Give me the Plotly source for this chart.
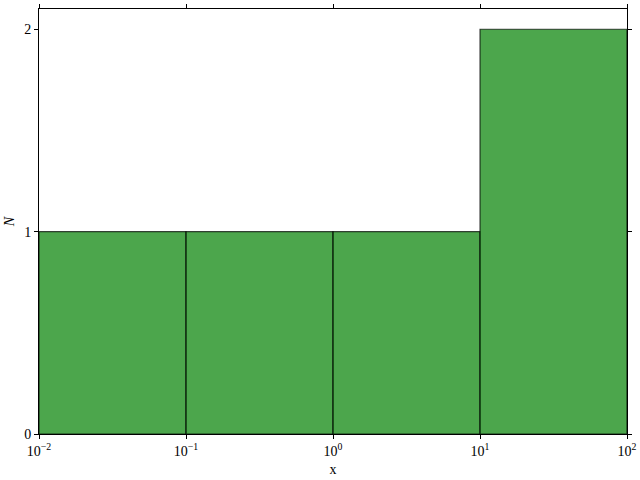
import plotly.graph_objects as go

# histogram of x, log-spaced bins
bin_edges = [1e-2, 1e-1, 1e0, 1e1, 1e2]
counts = [1, 1, 1, 2]
x_tick_vals = [1e-2, 1e-1, 1e0, 1e1, 1e2]
x_tick_text = ["10<sup>−2</sup>", "10<sup>−1</sup>", "10<sup>0</sup>",
               "10<sup>1</sup>", "10<sup>2</sup>"]
y_tick_vals = [0, 1, 2]

fig = go.Figure()

for i in range(len(counts)):
    lo, hi = bin_edges[i], bin_edges[i + 1]
    fig.add_trace(go.Scatter(
        x=[lo, lo, hi, hi, lo],
        y=[0, counts[i], counts[i], 0, 0],
        mode="lines",
        fill="toself",
        fillcolor="rgba(0,128,0,0.7)",
        line=dict(color="rgba(0,0,0,0.7)", width=1.2),
        showlegend=False,
        hoverinfo="skip",
    ))

axis_common = dict(
    showgrid=False,
    zeroline=False,
    showline=True,
    linecolor="black",
    linewidth=1,
    mirror="allticks",
    ticks="outside",
    ticklen=4,
    tickwidth=1,
    tickcolor="black",
    automargin=False,
)

fig.update_xaxes(
    type="log",
    range=[-2, 2],
    tickvals=x_tick_vals,
    ticktext=x_tick_text,
    tickfont=dict(size=14),
    title=dict(text="x", standoff=6, font=dict(size=14)),
    **axis_common,
)
fig.update_yaxes(
    range=[0, 2.1],
    tickvals=y_tick_vals,
    title=dict(text="<i>N</i>", standoff=6, font=dict(size=14)),
    **axis_common,
)

fig.update_layout(
    width=640,
    height=480,
    margin=dict(l=39, r=13, t=9, b=46),
    plot_bgcolor="white",
    paper_bgcolor="white",
    font=dict(family="Liberation Serif", size=14, color="black"),
)

# drop the default page margin so the figure sits at the window corner
fig.write_html("out.html", config={"displayModeBar": False},
               post_script="document.body.style.margin='0';")
